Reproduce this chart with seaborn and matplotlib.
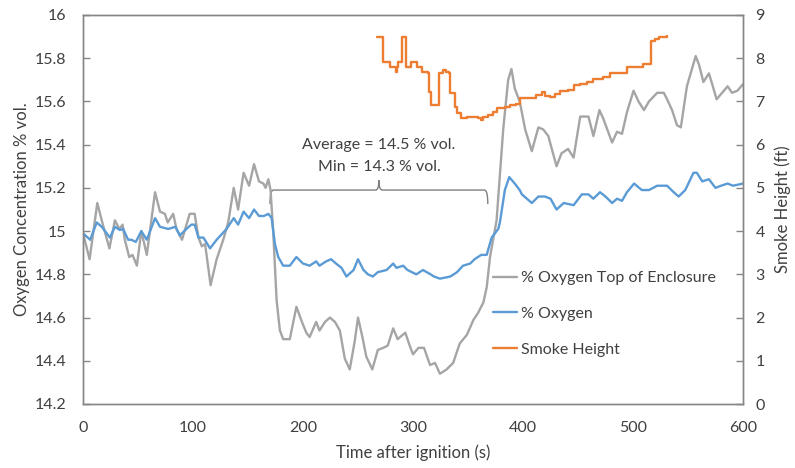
import matplotlib
matplotlib.use("Agg")
import matplotlib.pyplot as plt
from matplotlib.path import Path
from matplotlib.patches import PathPatch
from matplotlib.ticker import FuncFormatter, MultipleLocator
import seaborn as sns
import pandas as pd

# Oxygen at the top of the enclosure (% vol.)
top_t = [0, 6, 13, 17, 24, 29, 33, 36, 38, 42, 45, 49, 53, 58, 65.5, 70, 74.5, 77, 82, 85,
         90, 97, 101.5, 105, 108, 111, 116, 121.5, 127.5, 132, 137, 141, 146, 151, 155.5,
         160, 164, 166, 168.5, 170.5, 173, 176, 179, 182, 188, 194, 199, 203, 206, 212,
         215, 220, 224.5, 229, 233.5, 238, 242.5, 247, 250, 254, 257.5, 263, 268, 273,
         277, 282, 286, 293, 297, 300, 305, 310, 315.5, 320, 324.5, 330.5, 336.5, 342.5,
         349, 355, 359, 364, 367, 370, 376, 382, 386.5, 389.5, 392.5, 397, 402, 408, 414,
         418.5, 423, 430.5, 435, 441, 446, 452, 459.5, 464, 469.5, 473, 481, 485.5, 490,
         494.5, 500.5, 505, 510, 514.5, 522, 528, 531, 535.5, 540, 543.5, 549, 557, 560,
         564, 569, 572, 576, 581, 586, 590, 595, 600]
top_o2 = [14.99, 14.87, 15.13, 15.05, 14.92, 15.05, 15.01, 15.03, 14.96, 14.88, 14.89, 14.84,
          15.00, 14.89, 15.18, 15.09, 15.08, 15.04, 15.08, 15.01, 14.96, 15.08, 15.08, 14.97,
          14.93, 14.94, 14.75, 14.87, 14.96, 15.04, 15.20, 15.10, 15.27, 15.21, 15.31, 15.23,
          15.22, 15.20, 15.24, 15.19, 14.99, 14.68, 14.54, 14.50, 14.50, 14.65, 14.58, 14.53,
          14.51, 14.58, 14.54, 14.58, 14.60, 14.58, 14.54, 14.41, 14.36, 14.49, 14.60, 14.51,
          14.42, 14.36, 14.45, 14.46, 14.47, 14.55, 14.50, 14.53, 14.47, 14.43, 14.46, 14.46,
          14.38, 14.39, 14.34, 14.36, 14.39, 14.48, 14.52, 14.59, 14.62, 14.67, 14.74, 14.88,
          15.05, 15.47, 15.70, 15.75, 15.66, 15.60, 15.47, 15.37, 15.48, 15.47, 15.44, 15.30,
          15.36, 15.38, 15.34, 15.53, 15.53, 15.44, 15.56, 15.52, 15.41, 15.46, 15.45, 15.55,
          15.65, 15.60, 15.56, 15.60, 15.64, 15.64, 15.61, 15.56, 15.49, 15.48, 15.67, 15.81,
          15.77, 15.69, 15.73, 15.68, 15.61, 15.64, 15.67, 15.64, 15.65, 15.68]

# Oxygen (% vol.)
o2_t = [0, 6.5, 12.5, 17, 24.5, 29, 33.5, 36.5, 41, 44, 48, 53, 58, 65.5, 70, 77.5, 84, 88,
        94, 98.5, 101.5, 105, 109.5, 115.5, 121.5, 130.5, 137, 141, 146, 151, 155.5, 160,
        164.5, 168.5, 171.5, 174.5, 177.5, 182, 188, 194, 200, 206, 212, 215, 221, 225.5,
        230, 235, 239.5, 246, 250, 255, 259, 263.5, 268, 276, 282, 285, 291, 295, 303, 309,
        316, 319, 324.5, 334, 340, 345.5, 352, 356, 362, 367, 371.5, 377.5, 379, 383.5,
        387.5, 392.5, 397, 399, 408, 414, 420, 425, 430.5, 437, 446, 453.5, 459.5, 464, 470,
        475, 481, 485.5, 490, 494.5, 501, 508, 514.5, 522, 531, 537, 541.5, 547.5, 555, 558,
        563, 569, 575, 580, 586, 591, 600]
o2 = [14.99, 14.96, 15.04, 15.02, 14.97, 15.02, 15.005, 15.01, 14.96, 14.96, 14.95, 15.00,
      14.96, 15.06, 15.02, 15.01, 15.02, 14.98, 15.01, 15.03, 15.03, 14.97, 14.97, 14.92,
      14.96, 15.01, 15.06, 15.03, 15.09, 15.06, 15.10, 15.07, 15.07, 15.08, 15.06, 14.94,
      14.88, 14.84, 14.84, 14.88, 14.85, 14.84, 14.86, 14.84, 14.86, 14.87, 14.85, 14.83,
      14.79, 14.82, 14.87, 14.82, 14.80, 14.79, 14.81, 14.82, 14.85, 14.83, 14.84, 14.82,
      14.80, 14.82, 14.80, 14.79, 14.78, 14.79, 14.81, 14.84, 14.85, 14.87, 14.89, 14.89,
      14.97, 15.01, 15.04, 15.19, 15.25, 15.22, 15.19, 15.17, 15.13, 15.16, 15.16, 15.15,
      15.10, 15.13, 15.12, 15.17, 15.17, 15.15, 15.18, 15.16, 15.13, 15.15, 15.14, 15.18,
      15.22, 15.19, 15.19, 15.21, 15.21, 15.18, 15.16, 15.19, 15.27, 15.27, 15.23, 15.24,
      15.20, 15.21, 15.22, 15.21, 15.22]

# Smoke layer height (ft), logged as discrete steps
smoke_t = [267, 272.5, 279, 284.5, 285.5, 286.7, 289.7, 293.6, 297.9, 303.3, 307.9, 314,
           314.5, 316, 324, 327, 330, 333, 333.5, 336, 338, 340, 344, 349, 355, 359, 362,
           364, 368.5, 373, 376, 383.6, 388, 394, 397, 403, 412, 417, 420, 424.5, 429, 433.6,
           441, 446, 452, 458, 464, 470, 473, 479, 495, 509, 516, 520, 524, 531]
smoke_ft = [8.50, 7.92, 7.80, 7.69, 7.80, 7.92, 8.50, 7.80, 7.92, 7.80, 7.69, 7.65,
            7.23, 6.92, 7.65, 7.73, 7.69, 7.65, 7.20, 7.20, 6.88, 6.73, 6.61, 6.65, 6.65,
            6.61, 6.58, 6.63, 6.69, 6.76, 6.84, 6.86, 6.92, 6.94, 7.07, 7.07, 7.15, 7.23,
            7.13, 7.10, 7.18, 7.25, 7.27, 7.38, 7.40, 7.45, 7.51, 7.51, 7.57, 7.65, 7.80,
            7.86, 8.40, 8.45, 8.50, 8.51]

series_labels = ["% Oxygen Top of Enclosure", "% Oxygen", "Smoke Height"]
series_colors = ["#A5A5A5", "#5B9BD5", "#ED7D31"]

# Averaging window and its summary
window = (170, 368)
summary_lines = ["Average = 14.5 % vol.", "Min = 14.3 % vol."]

sns.set_theme(style="white")
plt.rcParams["font.family"] = ["Lato", "DejaVu Sans"]
text_color = "#404040"
frame_color = "#868686"
fs = 11.5

fig = plt.figure(figsize=(7.95, 4.68), dpi=100)
ax = fig.add_axes([83 / 795, 1 - 404 / 468, 660 / 795, 389 / 468])
ax2 = ax.twinx()

top_df = pd.DataFrame({"t": top_t, "v": top_o2})
o2_df = pd.DataFrame({"t": o2_t, "v": o2})
smoke_df = pd.DataFrame({"t": smoke_t, "v": smoke_ft})

lw = 1.7
sns.lineplot(data=top_df, x="t", y="v", ax=ax, color=series_colors[0], lw=lw,
             estimator=None, sort=False, label=series_labels[0], legend=False)
sns.lineplot(data=o2_df, x="t", y="v", ax=ax, color=series_colors[1], lw=lw,
             estimator=None, sort=False, label=series_labels[1], legend=False)
sns.lineplot(data=smoke_df, x="t", y="v", ax=ax2, color=series_colors[2], lw=lw,
             estimator=None, sort=False, drawstyle="steps-post",
             label=series_labels[2], legend=False)

ax.set_xlim(0, 600)
ax.set_ylim(14.2, 16)
ax2.set_ylim(0, 9)
ax.xaxis.set_major_locator(MultipleLocator(100))
ax.yaxis.set_major_locator(MultipleLocator(0.2))
ax2.yaxis.set_major_locator(MultipleLocator(1))
ax.yaxis.set_major_formatter(FuncFormatter(lambda v, p: f"{v:g}"))

for a in (ax, ax2):
    for s in a.spines.values():
        s.set_color(frame_color)
        s.set_linewidth(1.0)
    a.tick_params(direction="in", length=5, width=1, color=frame_color,
                  labelsize=fs, labelcolor=text_color)
ax.tick_params(axis="x", pad=12)
ax.tick_params(axis="y", pad=12)
ax2.tick_params(axis="y", pad=9)

ax.set_xlabel("Time after ignition (s)", fontsize=12, color=text_color, labelpad=7)
ax.set_ylabel("Oxygen Concentration % vol.", fontsize=12, color=text_color, labelpad=3)
ax2.set_ylabel("Smoke Height (ft)", fontsize=12, color=text_color, labelpad=7)

# Curly brace over the averaging window
x0, x1 = window
xm = (x0 + x1) / 2
yb, ye, yc = 15.19, 15.125, 15.235
verts = [(x0, ye), (x0, yb), (x0 + 3, yb),
         (xm - 3, yb), (xm, yb), (xm, yc),
         (xm, yb), (xm + 3, yb),
         (x1 - 3, yb), (x1, yb), (x1, ye)]
codes = [Path.MOVETO, Path.CURVE3, Path.CURVE3,
         Path.LINETO, Path.CURVE3, Path.CURVE3,
         Path.CURVE3, Path.CURVE3,
         Path.LINETO, Path.CURVE3, Path.CURVE3]
ax.add_patch(PathPatch(Path(verts, codes), fill=False, edgecolor="#7F7F7F", lw=1.0))
ax.text(xm, 15.40, summary_lines[0], ha="center", va="center", fontsize=fs, color=text_color)
ax.text(xm, 15.295, summary_lines[1], ha="center", va="center", fontsize=fs, color=text_color)

handles = ax.get_lines()[:2] + ax2.get_lines()[:1]
leg = ax.legend(handles, series_labels, loc="center left", bbox_to_anchor=(0.60, 0.232),
                frameon=False, fontsize=fs, handlelength=1.5, handletextpad=0.2,
                labelspacing=1.35)
for t in leg.get_texts():
    t.set_color(text_color)

fig.savefig("out.png", dpi=100)
